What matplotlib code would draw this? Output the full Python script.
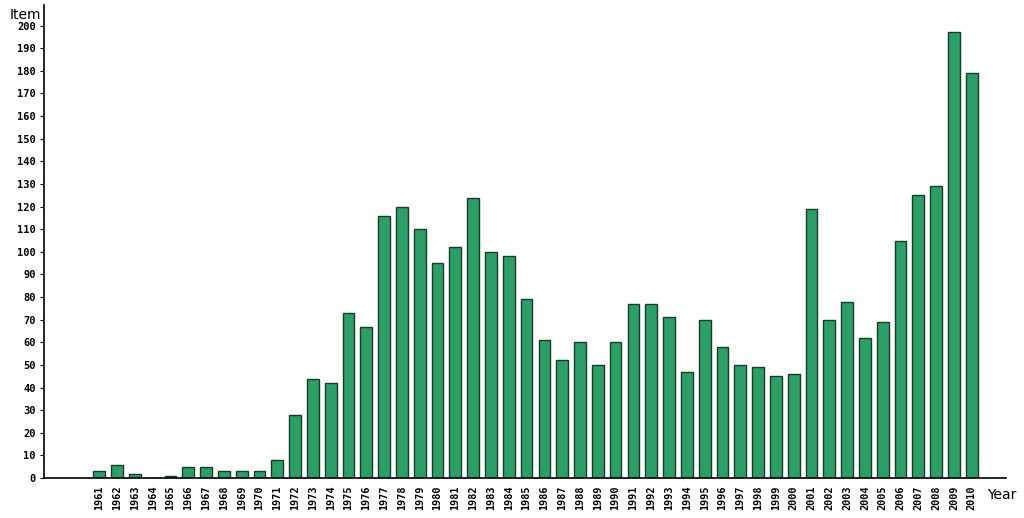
import matplotlib.pyplot as plt
import numpy as np

years = list(range(1961, 2011))
items = [3, 6, 2, 0, 1, 5, 5, 3, 3, 3,
         8, 28, 44, 42, 73, 67, 116, 120, 110, 95,
         102, 124, 100, 98, 79, 61, 52, 60, 50, 60,
         77, 77, 71, 47, 70, 58, 50, 49, 45, 46,
         119, 70, 78, 62, 69, 105, 125, 129, 197, 179]
y_ticks = list(range(0, 201, 10))

fig = plt.figure(figsize=(10.24, 5.18), dpi=100)
ax = fig.add_axes([0.043, 0.077, 0.939, 0.913])

x = np.arange(len(years))
ax.bar(x, items, width=0.66, color='#2e9e68', edgecolor='#163d26', linewidth=1.0)

ax.set_xlim(-3.1, len(years) + 0.9)
ax.set_ylim(0, 209)
ax.set_xticks(x)
ax.set_xticklabels([str(y) for y in years], rotation=90, fontsize=7.3,
                   fontweight='bold', family='DejaVu Sans Mono')
ax.set_yticks(y_ticks)
ax.set_yticklabels([str(v) for v in y_ticks], fontsize=7.5, fontweight='bold',
                   family='DejaVu Sans Mono')
ax.tick_params(axis='x', length=0, pad=5)
ax.tick_params(axis='y', length=3, width=0.8, pad=3)

for side in ['top', 'right']:
    ax.spines[side].set_visible(False)
ax.spines['left'].set_linewidth(1.2)
ax.spines['bottom'].set_linewidth(1.2)

fig.text(0.009, 0.958, 'Item', fontsize=10, ha='left', va='bottom')
fig.text(0.964, 0.044, 'Year', fontsize=10, ha='left', va='center')

plt.savefig('out.png', dpi=100)
